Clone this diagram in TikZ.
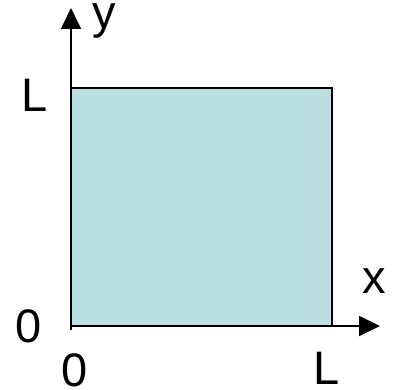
\documentclass[tikz,border=0pt]{standalone}
\usepackage{fontspec}
\setmainfont{Liberation Sans}
\usetikzlibrary{arrows.meta,positioning}
\definecolor{boxblue}{RGB}{187,224,227}

\begin{document}
\begin{tikzpicture}[x=1pt,y=1pt,
  axis/.style={line width=1.8pt,-{Triangle[length=21pt,width=20pt]}},
  lbl/.style={anchor=base west,inner sep=0pt,font=\fontsize{47}{50}\selectfont}]
  \useasboundingbox (0,0) rectangle (395,389);

  % Square
  \fill[boxblue] (72,63) rectangle (332,301);
  \draw[line width=1.8pt] (71,301) -- (332,301) -- (332,63);

  % Axes
  \coordinate (O) at (71,63);
  \coordinate (ybot) at (71,59);
  \coordinate (ytop) at (71,381);
  \coordinate (xend) at (380,63);
  \draw[axis] (ybot) -- (ytop);
  \draw[axis] (O) -- (xend);

  % Labels
  \node[lbl] (ylab) at (92,360) {y};
  \node[lbl] (xlab) at (362,96) {x};
  \node[lbl] (Lleft) at (21.6,278) {L};
  \node[lbl] (zleft) at (15,47) {0};
  \node[lbl] (zbot) at (61,3) {0};
  \node[lbl] (Lbot) at (313.6,5) {L};
\end{tikzpicture}
\end{document}
